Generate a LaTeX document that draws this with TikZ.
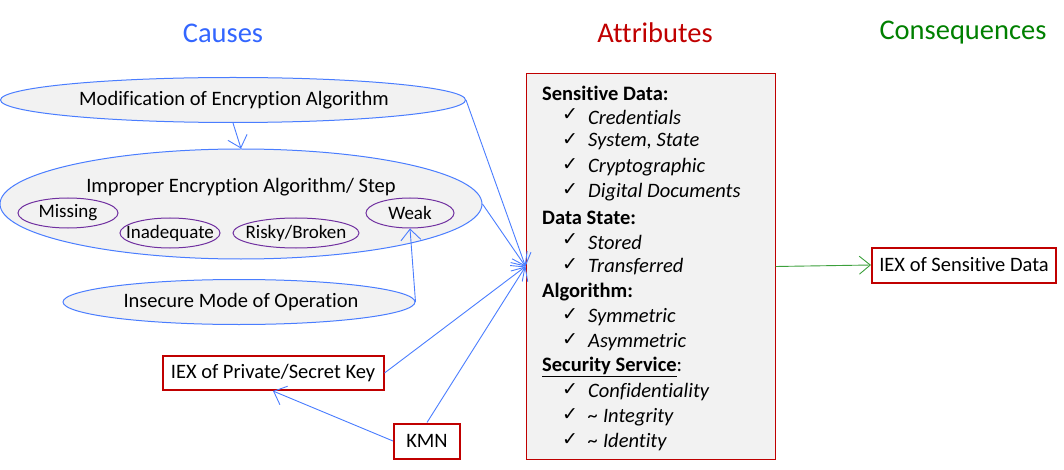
\documentclass[tikz,border=0pt]{standalone}
\usepackage{fontspec}
\setmainfont[Ligatures=NoCommon]{Carlito}
\newfontfamily\symfont{DejaVu Sans}
\usetikzlibrary{shapes.geometric,arrows.meta}
\definecolor{lblue}{HTML}{4A7DFF}
\definecolor{tblue}{HTML}{3366FF}
\definecolor{dred}{HTML}{C00000}
\definecolor{dgreen}{HTML}{008000}
\definecolor{lgreen}{HTML}{3CA03C}
\definecolor{purp}{HTML}{7030A0}
\definecolor{fillg}{HTML}{F2F2F2}
\begin{document}
\begin{tikzpicture}[x=1pt,y=-1pt,
  every node/.style={font=\fontsize{20.5}{24}\selectfont, inner sep=0pt},
  every label/.style={font=\fontsize{19}{22}\selectfont, inner sep=0pt},
  title/.style={font=\fontsize{28.5}{32}\selectfont},
  bigell/.style={ellipse, draw=lblue, fill=fillg, line width=1pt},
  smell/.style={ellipse, draw=purp, line width=1pt, minimum height=30pt},
  redbox/.style={rectangle, draw=dred, line width=2pt, fill=white},
  attrtxt/.style={anchor=west, font=\fontsize{20.5}{24}\selectfont},
  conn/.style={draw=lblue, line width=0.9pt, -{Straight Barb[length=11pt,width=20pt]}},
  gconn/.style={draw=lgreen, line width=0.9pt, -{Straight Barb[length=11pt,width=18pt]}},
  tick/.style={font=\symfont\fontsize{19}{22}\selectfont}
]
\useasboundingbox (0,0) rectangle (1064,470);

% titles
\node[title, text=tblue] (tcauses) at (223,33) {Causes};
\node[title, text=dred] (tattr) at (655,33) {Attributes};
\node[title, text=dgreen] (tcons) at (963,33) {Consequences};

% cause ellipses
\node[bigell, minimum width=465pt, minimum height=45pt] (mod) at (233,100) {};
\node (modt) at (234,100) {Modification of Encryption Algorithm};
\node[bigell, minimum width=482pt, minimum height=110pt] (imp) at (241,204) {};
\node (impt) at (241,187) {Improper Encryption Algorithm/ Step};
\node[smell, minimum width=100pt, label={center:Missing}] (miss) at (68,213) {};
\node[smell, minimum width=100pt, label={center:Inadequate}] (inad) at (170,233) {};
\node[smell, minimum width=126pt, label={center:Risky/Broken}] (risky) at (296,233) {};
\node[smell, minimum width=88pt, label={center:Weak}] (weak) at (410,213) {};
\node[bigell, minimum width=352pt, minimum height=45pt] (ins) at (239,302) {};
\node (inst) at (241,302) {Insecure Mode of Operation};

% red boxes
\node[redbox, minimum width=221pt, minimum height=34pt] (priv) at (273,373) {IEX of Private/Secret Key};
\node[redbox, minimum width=66pt, minimum height=35pt] (kmn) at (427,441) {KMN};
\node[redbox, minimum width=184pt, minimum height=35pt] (sens) at (964,265) {IEX of Sensitive Data};

% attributes box
\node[rectangle, draw=dred, line width=1pt, fill=fillg, minimum width=249pt, minimum height=385pt] (attr) at (650.5,266.5) {};

\foreach \y/\t in {93/{\textbf{Sensitive Data:}}, 218/{\textbf{Data State:}}, 292/{\textbf{Algorithm:}}, 367/{\underline{\textbf{Security Service}}:}} {
  \node[attrtxt] at (542,\y) {\t};
}
\foreach \y/\t in {117/Credentials, 142/{System, State}, 167/Cryptographic, 192/{Digital Documents}, 242/Stored, 267/Transferred, 317/Symmetric, 342/Asymmetric, 392/Confidentiality, 417/{\textasciitilde{} Integrity}, 442/{\textasciitilde{} Identity}} {
  \node[tick] at (570,\y-2) {✓};
  \node[attrtxt] at (588,\y) {\itshape \t};
}

% connectors
\draw[conn] (mod.south) -- (imp.north);
\draw[conn] (mod.east) -- (attr.west);
\draw[conn] (imp.east) -- (attr.west);
\draw[conn] (ins.east) -- (weak.south);
\draw[conn] (priv.east) -- (attr.west);
\draw[conn] (kmn.north) -- (attr.west);
\draw[conn] (kmn.west) -- (priv.south);
\draw[gconn] (attr.east) -- (sens.west);
\end{tikzpicture}
\end{document}
